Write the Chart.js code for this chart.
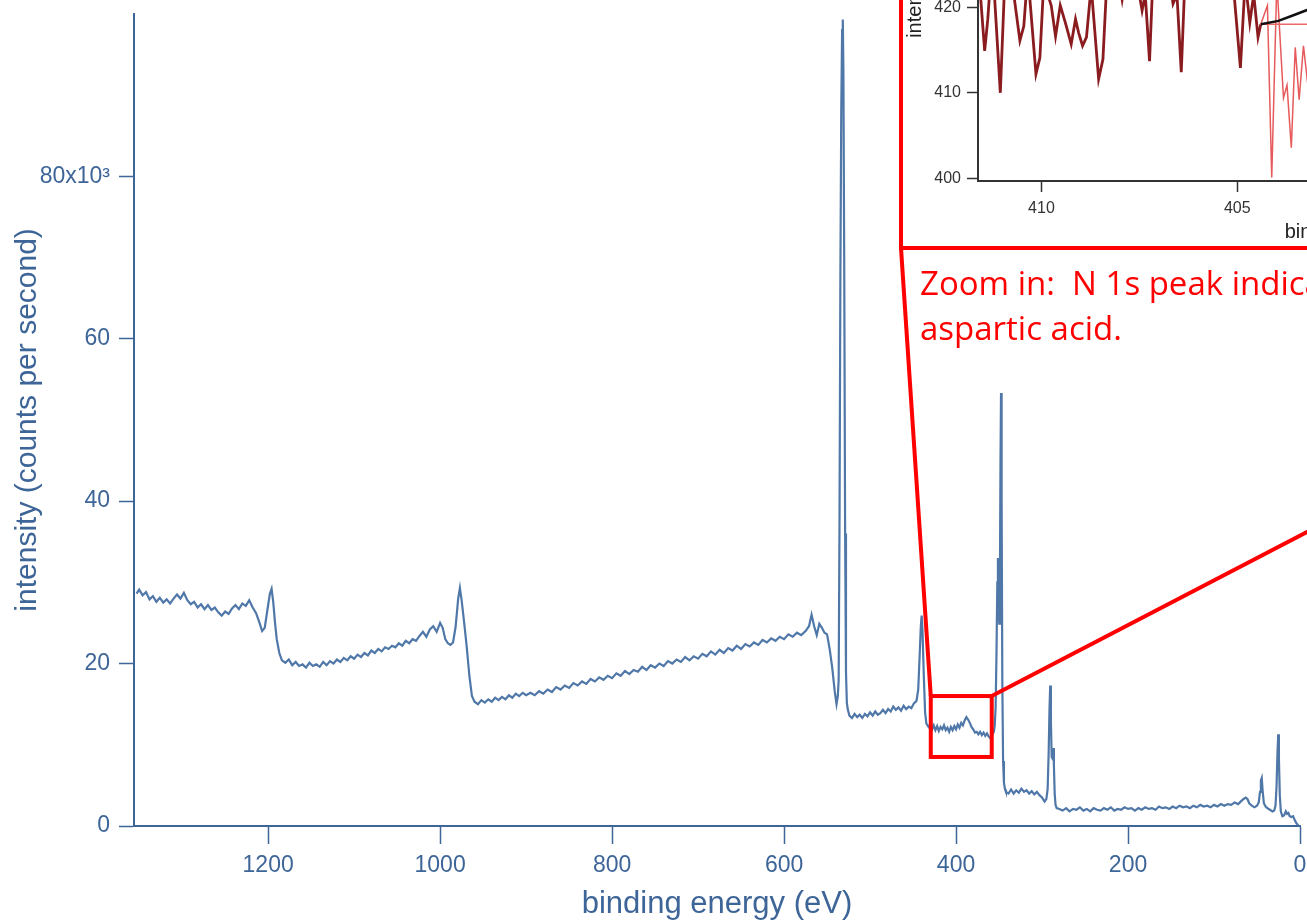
<!DOCTYPE html>
<html>
<head>
<meta charset="utf-8">
<title>XPS survey</title>
<script src="https://cdn.jsdelivr.net/npm/chart.js@4.4.1/dist/chart.umd.min.js"></script>
<style>
  html, body { margin: 0; padding: 0; background: #fff; }
  body { position: relative; width: 1307px; height: 920px; overflow: hidden; }
  #survey { position: absolute; left: 0; top: -9px; }
  #inset {
    position: absolute; left: 899px; top: -400px; width: 956px; height: 650px;
    box-sizing: border-box; border: 4px solid #ff0000; background: #fff;
  }
  #insetChart { position: absolute; left: 0; top: 0; }
  #note {
    position: absolute; left: 920px; top: 260px; color: #ff0000;
    font-family: "Open Sans", sans-serif; font-size: 33px; line-height: 45px; white-space: pre;
  }
</style>
</head>
<body>
<canvas id="survey" width="1307" height="929"></canvas>
<div id="inset"><canvas id="insetChart" width="948" height="642"></canvas></div>
<div id="note">Zoom in:  N 1s peak indicates the presence of
aspartic acid.</div>
<script>
// survey spectrum: [binding energy (eV), intensity (x10^3 counts/s)]
const surveyPoints = [
  [1353, 28.6], [1350, 29.1], [1346, 28.4], [1342, 28.8], [1338, 27.9], [1334, 28.3], [1330, 27.6],
  [1326, 28.1], [1322, 27.5], [1318, 27.9], [1314, 27.4], [1310, 28.0], [1306, 28.5], [1302, 28.0],
  [1298, 28.7], [1294, 27.8], [1290, 27.3], [1286, 27.6], [1282, 26.9], [1278, 27.3], [1274, 26.7],
  [1270, 27.2], [1266, 26.6], [1262, 26.9], [1258, 26.3], [1254, 25.9], [1250, 26.4], [1246, 26.1],
  [1242, 26.8], [1238, 27.2], [1234, 26.7], [1230, 27.4], [1226, 27.1], [1222, 27.8], [1218, 26.9],
  [1214, 26.2], [1210, 25.0], [1207, 24.0], [1204, 24.4], [1201, 26.5], [1198, 28.6], [1196, 29.2],
  [1194, 27.5], [1192, 25.0], [1190, 23.0], [1187, 21.3], [1184, 20.4], [1180, 20.1], [1176, 20.5],
  [1172, 19.8], [1168, 20.2], [1164, 19.7], [1160, 19.9], [1156, 19.5], [1152, 20.1], [1148, 19.7],
  [1144, 19.9], [1140, 19.6], [1136, 20.2], [1132, 19.8], [1128, 20.3], [1124, 20.0], [1120, 20.5],
  [1116, 20.2], [1112, 20.7], [1108, 20.4], [1104, 20.9], [1100, 20.6], [1096, 21.1], [1092, 20.8],
  [1088, 21.3], [1084, 21.0], [1080, 21.6], [1076, 21.3], [1072, 21.8], [1068, 21.5], [1064, 22.0],
  [1060, 21.8], [1056, 22.2], [1052, 22.0], [1048, 22.5], [1044, 22.2], [1040, 22.8], [1036, 22.5],
  [1032, 23.0], [1028, 22.8], [1024, 23.4], [1020, 23.9], [1016, 23.3], [1012, 24.2], [1008, 24.6],
  [1004, 23.9], [1000, 25.0], [997, 24.4], [994, 23.0], [991, 22.5], [988, 22.3], [985, 22.6],
  [982, 24.5], [979, 28.0], [977, 29.3], [975, 27.8], [972, 25.0], [969, 22.0], [966, 18.5],
  [963, 16.0], [960, 15.3], [956, 15.0], [952, 15.5], [948, 15.2], [944, 15.6], [940, 15.3],
  [936, 15.8], [932, 15.5], [928, 15.9], [924, 15.6], [920, 16.1], [916, 15.8], [912, 16.3],
  [908, 16.0], [904, 16.4], [900, 16.1], [895, 16.4], [890, 16.1], [885, 16.6], [880, 16.3],
  [875, 16.8], [870, 16.5], [865, 17.1], [860, 16.8], [855, 17.3], [850, 17.0], [845, 17.6],
  [840, 17.3], [835, 17.8], [830, 17.5], [825, 18.1], [820, 17.8], [815, 18.3], [810, 18.0],
  [805, 18.5], [800, 18.2], [795, 18.8], [790, 18.5], [785, 19.1], [780, 18.7], [775, 19.2],
  [770, 19.0], [765, 19.6], [760, 19.2], [755, 19.8], [750, 19.5], [745, 20.0], [740, 19.7],
  [735, 20.3], [730, 20.0], [725, 20.5], [720, 20.2], [715, 20.8], [710, 20.4], [705, 20.9],
  [700, 20.6], [695, 21.2], [690, 20.9], [685, 21.5], [680, 21.1], [675, 21.7], [670, 21.3],
  [665, 21.9], [660, 21.6], [655, 22.2], [650, 21.8], [645, 22.4], [640, 22.1], [635, 22.6],
  [630, 22.3], [625, 22.9], [620, 22.6], [615, 23.1], [610, 22.8], [605, 23.3], [600, 23.0],
  [595, 23.6], [590, 23.3], [585, 23.8], [580, 23.5], [575, 24.0], [571, 24.6], [568, 26.0],
  [565, 24.6], [562, 23.5], [559, 24.9], [556, 24.4], [553, 23.8], [550, 23.6], [547, 21.8],
  [544, 19.5], [541, 16.5], [539, 15.0], [537.5, 16.0], [536.5, 18.0], [535.5, 38.0], [534.5, 68.0],
  [533.5, 88.0], [532.5, 98.0], [531.7, 99.3], [531, 93.0], [530, 68.0], [529, 36.0], [528, 19.0],
  [527, 15.2], [526, 14.4], [524, 13.6], [521, 13.3], [518, 13.8], [515, 13.4], [512, 13.7],
  [509, 13.3], [506, 13.8], [503, 13.5], [500, 14.0], [497, 13.6], [494, 14.1], [491, 13.7],
  [488, 13.9], [485, 14.3], [482, 13.9], [479, 14.4], [476, 14.1], [473, 14.7], [470, 14.3],
  [467, 14.6], [464, 14.2], [461, 14.8], [458, 14.4], [455, 14.7], [452, 14.5], [449, 15.1],
  [446, 15.4], [444, 16.8], [442.5, 20.5], [441, 24.5], [440, 25.9], [439, 24.0], [437.5, 18.5],
  [436, 14.0], [434.5, 12.6], [432, 12.2], [430, 12.5], [428, 11.9], [426, 12.4], [424, 11.8],
  [422, 12.3], [420, 11.7], [418, 12.2], [416, 11.9], [414, 12.4], [412, 11.8], [410, 12.1],
  [408, 11.6], [406, 12.2], [404, 11.8], [402, 12.3], [400, 11.9], [398, 12.5], [396, 12.1],
  [394, 12.7], [392, 12.4], [390, 13.0], [388, 13.4], [386, 13.1], [384, 12.7], [382, 12.2],
  [380, 11.9], [378, 11.5], [376, 11.6], [374, 11.3], [372, 11.6], [370, 11.2], [368, 11.5],
  [366, 11.1], [364, 11.4], [362, 11.0], [360, 10.8], [358, 11.2], [356, 11.6], [355, 12.4],
  [354, 14.5], [353, 21.0], [352, 30.0], [351.3, 33.0], [350.5, 27.0], [349.7, 24.9], [349, 30.0],
  [348.3, 45.0], [347.7, 53.3], [347, 40.0], [346.2, 18.0], [345.3, 8.0], [344.3, 5.3], [343, 4.5],
  [342, 4.2], [339, 4.0], [336, 4.5], [333, 4.0], [330, 4.4], [327, 4.1], [324, 4.6],
  [321, 4.2], [318, 4.4], [315, 4.0], [312, 4.3], [309, 3.9], [306, 4.2], [303, 3.8],
  [300, 3.5], [297, 3.0], [295, 3.3], [293.5, 4.5], [292.3, 9.0], [291.3, 14.5], [290.5, 17.3],
  [289.7, 13.0], [288.8, 8.5], [287.8, 8.3], [287, 9.6], [286.2, 7.5], [285.3, 4.0], [284.3, 2.6],
  [283, 2.2], [280, 2.1], [276, 1.9], [272, 2.2], [268, 1.8], [264, 2.1], [260, 2.0],
  [256, 2.3], [252, 1.9], [248, 2.1], [244, 1.8], [240, 2.2], [236, 2.0], [232, 1.9],
  [228, 2.2], [224, 2.0], [220, 2.3], [216, 1.9], [212, 2.1], [208, 2.0], [204, 2.3],
  [200, 2.1], [196, 2.2], [192, 1.9], [188, 2.2], [184, 2.0], [180, 2.3], [176, 2.1],
  [172, 2.2], [168, 2.0], [164, 2.4], [160, 2.2], [156, 2.3], [152, 2.1], [148, 2.4],
  [144, 2.2], [140, 2.5], [136, 2.3], [132, 2.4], [128, 2.2], [124, 2.5], [120, 2.3],
  [116, 2.6], [112, 2.4], [108, 2.5], [104, 2.3], [100, 2.6], [96, 2.4], [92, 2.7],
  [88, 2.5], [84, 2.7], [80, 2.6], [76, 2.9], [72, 2.7], [69, 3.0], [66, 3.3],
  [63, 3.5], [61, 3.3], [59, 2.8], [56, 2.5], [53, 2.3], [50, 2.5], [48, 2.9],
  [46.5, 4.2], [45.5, 5.6], [44.5, 5.9], [43.5, 4.4], [42, 2.8], [40, 2.4], [38, 2.2],
  [35, 2.0], [32, 1.8], [30, 1.9], [28.5, 2.5], [27.3, 4.8], [26.2, 9.0], [25.3, 11.3],
  [24.5, 8.2], [23.5, 3.8], [22.3, 1.8], [20.5, 1.2], [18.5, 1.3], [16.5, 1.8], [15, 1.5],
  [13.5, 1.6], [12, 1.2], [10, 1.1], [8, 1.2], [6, 0.7], [4, 0.3], [2, 0.1]
];

const surveyXTicks = [0, 200, 400, 600, 800, 1000, 1200];
const surveyYTicks = [0, 20, 40, 60, 80];
const surveyYLabels = ['0', '20', '40', '60', '80x10\u00B3'];

// region marked by the red box (eV, x10^3 counts/s)
const zoomEnergy = [429.4, 358.5];
const zoomCounts = [8.5, 16.0];

// N 1s zoom: [binding energy (eV), intensity (counts/s)]
const insetRaw = [
  [411.60, 424.0], [411.45, 414.9], [411.37, 418.6], [411.26, 426.0], [411.05, 410.0],
  [410.92, 425.0], [410.75, 423.0], [410.55, 416.1], [410.45, 417.8], [410.35, 424.0],
  [410.14, 412.2], [410.04, 414.1], [409.94, 423.0], [409.75, 420.2], [409.64, 416.6],
  [409.52, 420.2], [409.39, 418.2], [409.24, 415.7], [409.13, 418.6], [409.05, 417.0],
  [408.95, 415.5], [408.85, 416.5], [408.73, 422.5], [408.54, 411.6], [408.43, 413.9],
  [408.32, 424.0], [408.16, 427.0], [407.94, 420.9], [407.77, 426.0], [407.56, 423.0],
  [407.43, 419.6], [407.35, 421.5], [407.24, 413.7], [407.14, 425.0], [406.92, 428.0],
  [406.75, 424.0], [406.64, 420.4], [406.54, 421.5], [406.43, 412.4], [406.33, 424.0],
  [406.11, 430.0], [405.86, 426.0], [405.60, 431.0], [405.35, 425.0], [405.09, 422.0],
  [404.92, 412.9], [404.80, 423.0], [404.73, 420.3], [404.68, 418.2], [404.58, 421.5],
  [404.47, 416.5], [404.40, 418.0]
];
const insetFitRegion = [
  [404.40, 418.0], [404.23, 420.2], [404.12, 400.1], [403.99, 423.0], [403.82, 409.4],
  [403.73, 410.9], [403.62, 403.6], [403.52, 415.3], [403.42, 409.2], [403.31, 415.5],
  [403.20, 411.0], [403.10, 424.0], [402.95, 418.0]
];
const insetEnvelope = [
  [404.40, 418.0], [403.95, 418.4], [403.60, 419.0], [403.20, 419.7], [402.80, 420.6], [402.40, 421.8]
];
const insetBaseline = [[404.40, 418.0], [402.40, 418.0]];

const insetXTicks = [395, 400, 405, 410];
const insetYTicks = [400, 410, 420, 430, 440, 450, 460];

const blue = '#3d6598';
const fontFamily = "'Liberation Sans', Arial, sans-serif";

const zoomBoxPlugin = {
  id: 'zoomBox',
  afterDatasetsDraw(chart) {
    const { ctx, scales } = chart;
    const left = scales.x.getPixelForValue(zoomEnergy[0]);
    const right = scales.x.getPixelForValue(zoomEnergy[1]);
    const top = scales.y.getPixelForValue(zoomCounts[1]);
    const bottom = scales.y.getPixelForValue(zoomCounts[0]);
    const c = chart.canvas.getBoundingClientRect();
    const box = document.getElementById('inset').getBoundingClientRect();
    ctx.save();
    ctx.strokeStyle = '#ff0000';
    ctx.lineWidth = 4;
    ctx.strokeRect(left, top, right - left, bottom - top);
    ctx.beginPath();
    ctx.moveTo(left, top);
    ctx.lineTo(box.left - c.left + 2, box.bottom - c.top - 2);
    ctx.moveTo(right, top);
    ctx.lineTo(box.right - c.left - 2, box.bottom - c.top - 2);
    ctx.stroke();
    ctx.restore();
  }
};

new Chart(document.getElementById('survey'), {
  type: 'line',
  data: {
    datasets: [{
      data: surveyPoints,
      borderColor: '#4f77a8',
      borderWidth: 2.2,
      pointRadius: 0,
      tension: 0
    }]
  },
  options: {
    responsive: false,
    animation: false,
    events: [],
    layout: { padding: { top: 11, right: 7, left: 0, bottom: 0 } },
    plugins: { legend: { display: false }, tooltip: { enabled: false } },
    scales: {
      x: {
        type: 'linear',
        reverse: true,
        min: 0,
        max: 1356,
        afterBuildTicks: (scale) => { scale.ticks = surveyXTicks.map(v => ({ value: v })); },
        afterFit: (scale) => { scale.height = 94; },
        grid: { drawOnChartArea: false, drawTicks: true, tickLength: 18, tickColor: blue, tickWidth: 1.5 },
        border: { display: true, color: blue, width: 2 },
        ticks: { color: blue, font: { family: fontFamily, size: 23 }, padding: 8, maxRotation: 0,
          callback: (v) => String(v) },
        title: { display: true, text: 'binding energy (eV)', color: blue,
          font: { family: fontFamily, size: 31 }, padding: { top: 0, bottom: -3 } }
      },
      y: {
        min: 0,
        max: 100,
        afterBuildTicks: (scale) => { scale.ticks = surveyYTicks.map(v => ({ value: v })); },
        afterFit: (scale) => { scale.width = 134; },
        grid: { drawOnChartArea: false, drawTicks: true, tickLength: 15, tickColor: blue, tickWidth: 1.5 },
        border: { display: true, color: blue, width: 2 },
        ticks: { color: blue, font: { family: fontFamily, size: 23 }, padding: 9,
          callback: (v) => surveyYLabels[surveyYTicks.indexOf(v)] },
        title: { display: true, text: 'intensity (counts per second)', color: blue,
          font: { family: fontFamily, size: 30 }, padding: { top: 10, bottom: 0 } }
      }
    }
  },
  plugins: [zoomBoxPlugin]
});

const grey = '#333333';
new Chart(document.getElementById('insetChart'), {
  type: 'line',
  data: {
    datasets: [
      { data: insetEnvelope, borderColor: '#111111', borderWidth: 2.5 },
      { data: insetBaseline, borderColor: '#ee6a6a', borderWidth: 1.5 },
      { data: insetFitRegion, borderColor: '#e65a5c', borderWidth: 1.5 },
      { data: insetRaw, borderColor: '#8a1c20', borderWidth: 2.8 }
    ]
  },
  options: {
    responsive: false,
    animation: false,
    events: [],
    elements: { point: { radius: 0 }, line: { tension: 0 } },
    layout: { padding: { top: 35, right: 85, left: 0, bottom: 0 } },
    plugins: { legend: { display: false }, tooltip: { enabled: false } },
    scales: {
      x: {
        type: 'linear',
        reverse: true,
        min: 391.5,
        max: 411.62,
        afterBuildTicks: (scale) => { scale.ticks = insetXTicks.map(v => ({ value: v })); },
        afterFit: (scale) => { scale.height = 65; },
        grid: { drawOnChartArea: false, drawTicks: true, tickLength: 11, tickColor: grey, tickWidth: 1.5 },
        border: { display: true, color: grey, width: 2 },
        ticks: { color: grey, font: { family: fontFamily, size: 16 }, padding: 7, maxRotation: 0,
          callback: (v) => String(v) },
        title: { display: true, text: 'binding energy (eV)', color: '#222',
          font: { family: fontFamily, size: 20 }, padding: { top: 0, bottom: 2 } }
      },
      y: {
        min: 399.7,
        max: 463,
        afterBuildTicks: (scale) => { scale.ticks = insetYTicks.map(v => ({ value: v })); },
        afterFit: (scale) => { scale.width = 75; },
        grid: { drawOnChartArea: false, drawTicks: true, tickLength: 11, tickColor: grey, tickWidth: 1.5 },
        border: { display: true, color: grey, width: 2 },
        ticks: { color: grey, font: { family: fontFamily, size: 16 }, padding: 6,
          callback: (v) => String(v) },
        title: { display: true, text: 'intensity (counts per second)', color: '#222',
          font: { family: fontFamily, size: 20 }, padding: { top: 0, bottom: 0 } }
      }
    }
  }
});
</script>
</body>
</html>
